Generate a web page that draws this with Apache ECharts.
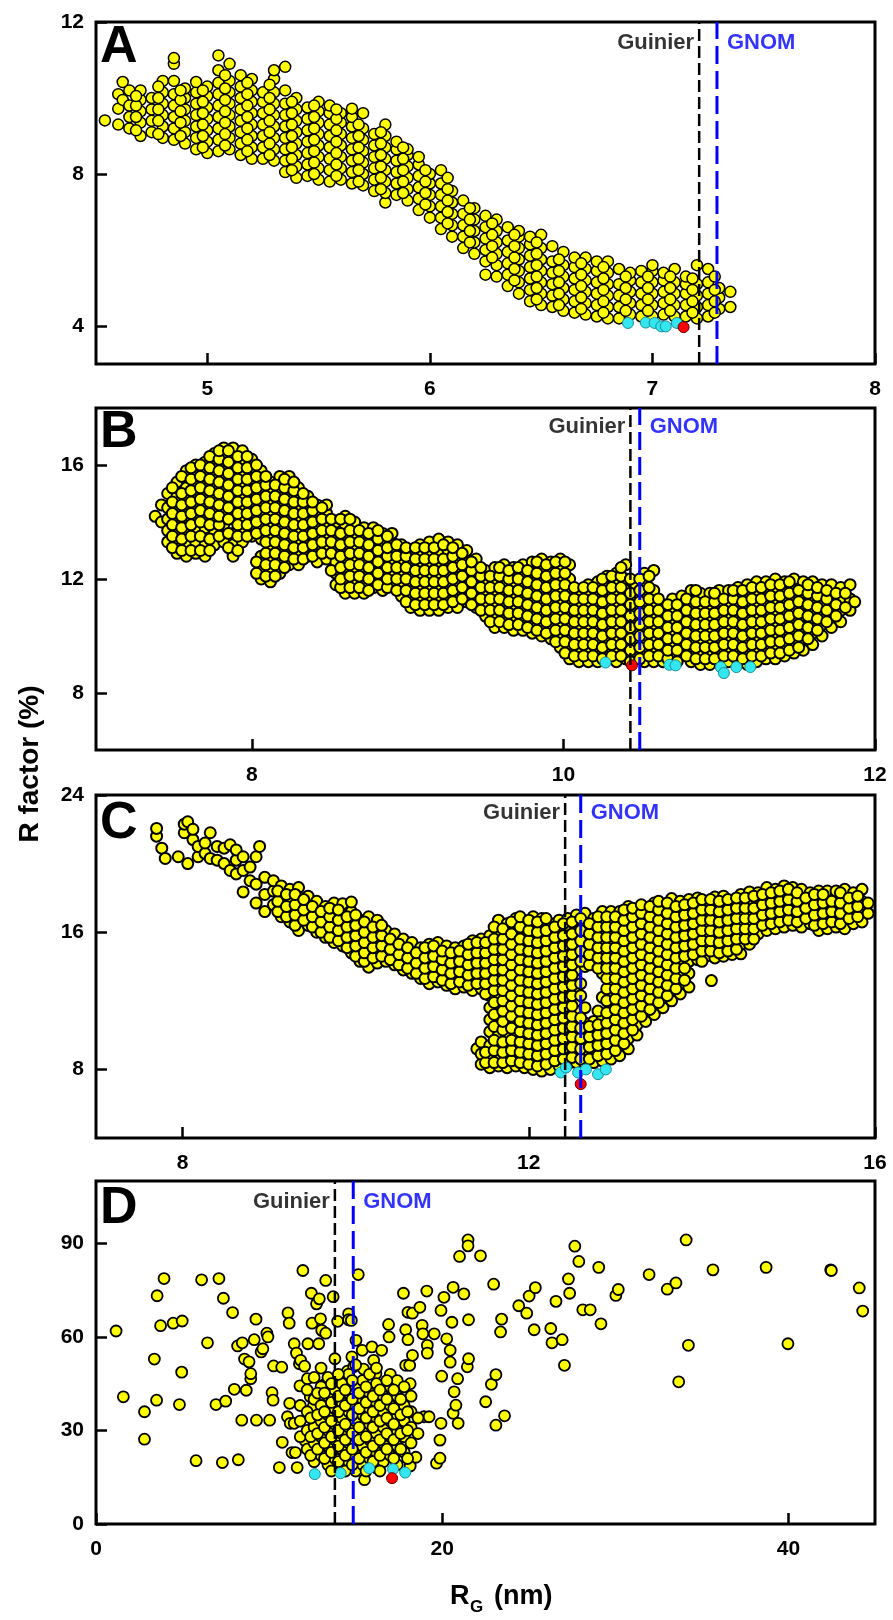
<!DOCTYPE html>
<html><head><meta charset="utf-8">
<script src="https://cdn.jsdelivr.net/npm/echarts@6/dist/echarts.min.js"></script>
<style>html,body{margin:0;padding:0;background:#fff}#c{width:893px;height:1620px}</style>
</head><body><div id="c"></div>
<script>
// ---------- DATA (column format: [x, y1, y2, ...]) ----------
const aYellowCols = [
[4.54,9.41],[4.60,9.3,9.72,10.1],[4.62,9.95,10.42],[4.65,9.2,9.5,9.8,10.2],
[4.70,9.0,9.35,9.65,9.95,10.2],[4.75,9.1,9.4,9.7,10.0],[4.80,8.95,9.25,9.55,9.85,10.15,10.45],
[4.85,8.9,9.2,9.5,9.8,10.1,10.45,10.9,11.05],[4.90,8.8,9.1,9.4,9.7,10.0,10.25],
[4.95,8.65,8.95,9.25,9.55,9.85,10.15,10.42],[5.00,8.55,8.85,9.15,9.45,9.75,10.05,10.3],
[5.05,8.6,8.9,9.2,9.5,9.8,10.1,10.4,10.73,11.12],[5.10,8.65,8.95,9.25,9.55,9.85,10.15,10.45,10.9],
[5.15,8.5,8.8,9.1,9.4,9.7,10.0,10.3,10.6],[5.20,8.4,8.7,9.0,9.3,9.6,9.9,10.2,10.5],
[5.25,8.4,8.7,9.0,9.3,9.6,9.9,10.15],[5.30,8.35,8.65,8.95,9.25,9.55,9.85,10.15,10.5,10.73],
[5.35,8.05,8.35,8.65,8.95,9.25,9.55,9.85,10.2,10.82],[5.40,7.9,8.2,8.5,8.8,9.1,9.4,9.7,10.0],
[5.45,7.95,8.25,8.55,8.85,9.15,9.45,9.75],[5.50,7.85,8.15,8.45,8.75,9.05,9.35,9.65,9.9],
[5.55,7.8,8.1,8.4,8.7,9.0,9.3,9.6,9.8],[5.60,7.85,8.15,8.45,8.75,9.05,9.35,9.6],
[5.65,7.75,8.05,8.35,8.65,8.95,9.25,9.5,9.72],[5.70,7.7,8.0,8.3,8.6,8.9,9.2,9.6],
[5.75,7.55,7.85,8.15,8.45,8.75,9.05],[5.80,7.25,7.5,7.8,8.1,8.4,8.7,9.0,9.3],
[5.85,7.45,7.75,8.05,8.35,8.65,8.85],[5.90,7.3,7.6,7.9,8.2,8.5,8.65],
[5.95,7.05,7.35,7.65,7.95,8.25,8.45],[6.00,6.85,7.15,7.45,7.75,8.0],
[6.05,6.55,6.85,7.15,7.45,7.75,8.1],[6.10,6.35,6.65,6.95,7.25,7.55],
[6.15,6.05,6.35,6.65,6.95,7.3],[6.20,5.9,6.2,6.5,6.8,7.1],
[6.25,5.35,5.7,6.0,6.3,6.6,6.9],[6.30,5.3,5.6,5.9,6.2,6.5,6.8],
[6.35,5.05,5.35,5.65,5.95,6.25,6.6],[6.40,4.85,5.15,5.45,5.75,6.05,6.35,6.5],
[6.45,4.65,4.95,5.25,5.55,5.85,6.15,6.35],[6.50,4.55,4.85,5.15,5.45,5.75,6.05,6.4],
[6.55,4.5,4.8,5.1,5.4,5.7,6.1],[6.60,4.4,4.7,5.0,5.3,5.6,5.95],
[6.65,4.35,4.65,4.95,5.25,5.55,5.8],[6.70,4.3,4.6,4.9,5.2,5.5,5.8],
[6.75,4.25,4.55,4.85,5.15,5.45,5.7],[6.80,4.2,4.5,4.8,5.1,5.4,5.7],
[6.85,4.2,4.5,4.8,5.1,5.5],[6.90,4.3,4.6,4.9,5.2,5.4],
[6.95,4.25,4.55,4.85,5.15,5.45],[7.00,4.25,4.55,4.85,5.15,5.45,5.6],
[7.05,4.3,4.6,4.9,5.2,5.4],[7.10,4.25,4.55,4.85,5.15,5.5],
[7.15,4.25,4.55,4.85,5.1,5.3],[7.20,4.2,4.5,4.8,5.1,5.6],
[7.25,4.25,4.55,4.85,5.15,5.5],[7.30,4.45,4.75,5.0],[7.35,4.5,4.9]
];
const aYellowExtra = [
[4.68,9.15,9.5,9.8,10.05],[4.78,9.05,9.4,9.7,10.0,10.3],[4.88,9.0,9.35,9.65,9.95,10.2],
[4.98,8.7,9.0,9.3,9.6,9.9,10.2],[5.08,8.75,9.05,9.35,9.65,9.95,10.25,10.6],
[5.18,8.6,8.9,9.2,9.5,9.8,10.1,10.4],[5.28,8.5,8.8,9.1,9.4,9.7,10.0,10.35],
[5.38,8.1,8.4,8.7,9.0,9.3,9.6,9.9],[5.48,8.0,8.3,8.6,8.9,9.2,9.5,9.8],
[5.58,7.95,8.25,8.55,8.85,9.15,9.45,9.7],[5.68,7.8,8.1,8.4,8.7,9.0,9.3],
[5.78,7.6,7.9,8.2,8.5,8.8,9.1],[5.88,7.5,7.8,8.1,8.4,8.7],[5.98,7.2,7.5,7.8,8.1],
[6.08,6.7,7.0,7.3,7.6,7.9],[6.18,6.2,6.5,6.8,7.1],[6.28,5.8,6.1,6.4,6.7],
[6.38,5.2,5.5,5.8,6.1,6.4],[6.48,4.7,5.0,5.3,5.6,5.9,6.2],[6.58,4.55,4.85,5.15,5.45,5.75],
[6.68,4.45,4.75,5.05,5.35,5.65],[6.78,4.35,4.65,4.95,5.25,5.55],[6.88,4.4,4.7,5.0,5.3],
[6.98,4.4,4.7,5.0,5.3],[7.08,4.4,4.7,5.0,5.3],[7.18,4.35,4.65,4.95,5.25],[7.28,4.35,4.65,4.95,5.3]
];
const aCyan = [[6.89,4.08],[6.97,4.09],[7.01,4.08],[7.04,3.99],[7.06,3.99],[7.11,4.08]];
const aRed = [[7.14,3.97]];

const bYellowCols = [
[7.38,14.2],[7.42,14.0,14.6],[7.46,13.3,13.7,14.1,14.5,15.0],
[7.52,12.9,13.3,13.7,14.1,14.5,14.9,15.4],[7.58,12.8,13.2,13.6,14.0,14.4,14.8,15.2,15.8],
[7.64,12.9,13.3,13.7,14.1,14.5,14.9,15.3,15.7,16.0],[7.70,12.8,13.2,13.8,14.2,14.6,15.0,15.4,15.8,16.1],
[7.76,13.2,13.6,14.0,14.4,14.8,15.2,15.6,16.0,16.4],[7.82,13.3,13.9,14.3,14.7,15.1,15.5,15.9,16.3,16.6],
[7.88,12.8,13.2,13.6,14.4,14.8,15.2,15.6,16.0,16.4,16.6],[7.94,13.3,13.7,14.1,14.5,14.9,15.3,15.7,16.1,16.5],
[8.00,13.5,13.9,14.3,14.7,15.1,15.5,15.9,16.2],[8.06,12.0,12.4,12.8,13.4,13.8,14.2,14.6,15.0,15.4,15.8],
[8.12,11.9,12.3,12.7,13.1,13.5,13.9,14.3,14.7,15.1,15.4],[8.18,12.2,12.6,13.0,13.4,13.8,14.2,14.6,15.0,15.6],
[8.24,12.5,12.9,13.3,13.7,14.1,14.5,14.9,15.3,15.6],[8.30,12.5,12.9,13.3,13.7,14.1,14.5,14.9,15.2],
[8.36,12.8,13.2,13.6,14.0,14.4,14.9],[8.42,12.6,13.0,13.4,13.8,14.2,14.6],
[8.48,12.7,13.1,13.5,13.9,14.3,14.6],[8.54,11.8,12.2,12.6,13.0,13.4,14.0],
[8.60,11.5,11.9,12.3,12.7,13.1,13.5,13.9,14.2],[8.66,11.5,11.9,12.3,12.7,13.1,13.5,14.0],
[8.72,11.5,11.9,12.3,12.7,13.1,13.5,13.8],[8.78,11.7,12.1,12.5,12.9,13.3,13.8],
[8.84,11.6,12.0,12.4,12.8,13.2,13.6],[8.90,11.8,12.2,12.6,13.0,13.3,13.6],
[8.96,11.4,11.8,12.2,12.6,13.0,13.2],[9.02,11.0,11.4,11.8,12.2,12.6,13.0],
[9.08,10.9,11.3,11.7,12.1,12.5,12.9,13.2],[9.14,10.9,11.3,11.7,12.1,12.5,12.9,13.3],
[9.20,10.9,11.3,11.7,12.1,12.5,12.9,13.4],[9.26,11.0,11.4,11.8,12.2,12.6,13.0,13.3],
[9.32,11.0,11.4,11.8,12.2,12.6,13.2],[9.38,11.2,11.6,12.0,12.4,12.7,13.0],
[9.44,11.0,11.4,11.8,12.2,12.7],[9.50,10.7,11.1,11.5,11.9,12.3],
[9.56,10.3,10.7,11.1,11.5,11.9,12.4],[9.62,10.3,10.7,11.1,11.5,11.9,12.2,12.5],
[9.68,10.2,10.6,11.0,11.4,11.8,12.1,12.4],[9.74,10.2,10.6,11.0,11.4,11.8,12.2,12.5],
[9.80,10.1,10.5,10.9,11.3,11.7,12.1,12.6],[9.86,10.0,10.4,10.8,11.2,11.6,12.0,12.4,12.7],
[9.92,9.9,10.3,10.7,11.1,11.5,11.9,12.3,12.6],[9.98,9.6,10.0,10.4,10.8,11.2,11.6,12.0,12.4,12.7],
[10.04,9.2,9.6,10.0,10.4,10.8,11.2,11.6,12.0,12.5],[10.10,9.1,9.5,9.9,10.3,10.7,11.1,11.6],
[10.16,9.1,9.5,9.9,10.3,10.7,11.1,11.5,11.8],[10.22,9.1,9.5,9.9,10.3,10.7,11.1,11.5,11.9],
[10.28,9.4,9.8,10.2,10.6,11.0,11.4,11.8,12.1],[10.34,9.1,9.5,9.9,10.3,10.7,11.1,11.5,11.9,12.2],
[10.40,9.2,9.6,10.0,10.4,10.8,11.2,11.6,12.0,12.5],[10.46,9.3,9.7,10.1,10.5,10.9,11.3,11.8],
[10.52,9.1,9.5,9.9,10.3,10.7,11.1,11.5,11.9,12.2],[10.58,9.1,9.5,9.9,10.3,10.7,11.1,11.6,12.3],
[10.64,9.1,9.5,9.9,10.3,10.7,11.1],[10.70,9.3,9.7,10.1,10.5,10.9,11.3],
[10.76,9.3,9.7,10.1,10.5,10.9,11.4],[10.82,9.1,9.5,9.9,10.3,10.7,11.1,11.6],
[10.88,9.0,9.4,9.8,10.2,10.6,11.0,11.5],[10.94,9.0,9.4,9.8,10.2,10.6,11.0,11.5],
[11.00,9.1,9.5,9.9,10.3,10.7,11.1,11.6],[11.06,9.1,9.5,9.9,10.3,10.7,11.1,11.6],
[11.12,9.1,9.5,9.9,10.3,10.7,11.1,11.5,11.7],[11.18,9.0,9.4,9.8,10.2,10.6,11.0,11.4,11.8],
[11.24,9.1,9.5,9.9,10.3,10.7,11.1,11.5,11.9],[11.30,9.2,9.6,10.0,10.4,10.8,11.2,11.6,11.9],
[11.36,9.2,9.6,10.0,10.4,10.8,11.2,11.6,12.0],[11.42,9.3,9.7,10.1,10.5,10.9,11.3,11.7,11.9],
[11.48,9.4,9.8,10.2,10.6,11.0,11.4,11.8,12.0],[11.54,9.5,9.9,10.3,10.7,11.1,11.5,11.9],
[11.60,9.7,10.1,10.5,10.9,11.3,11.7,11.9],[11.66,10.0,10.4,10.8,11.2,11.6,11.8],
[11.72,10.3,10.7,11.1,11.5,11.8],[11.78,10.5,10.9,11.3,11.7],[11.84,10.9,11.3,11.8],[11.87,11.2]
];
const bYellowExtra = [
[7.49,13.1,13.5,13.9,14.3,14.7,15.2],[7.55,13.0,13.4,13.8,14.2,14.6,15.0,15.6],
[7.61,13.0,13.5,13.9,14.3,14.7,15.1,15.5,15.9],[7.67,13.0,13.5,14.0,14.4,14.8,15.2,15.6,16.0],
[7.73,13.0,13.4,13.9,14.3,14.7,15.1,15.5,15.9,16.3],[7.79,13.5,13.9,14.2,14.6,15.0,15.4,15.8,16.2,16.5],
[7.85,13.1,13.6,14.1,14.5,14.9,15.3,15.7,16.1,16.5],[7.91,13.0,13.5,13.9,14.3,14.7,15.1,15.5,15.9,16.3],
[7.97,13.5,13.9,14.3,14.7,15.1,15.5,15.9,16.3],[8.03,12.2,12.6,13.6,14.0,14.4,14.8,15.2,15.6,16.0],
[8.09,12.1,12.5,12.9,13.3,13.7,14.1,14.5,14.9,15.3,15.6],[8.15,12.1,12.5,12.9,13.3,13.7,14.1,14.5,14.9,15.3],
[8.21,12.4,12.8,13.2,13.6,14.0,14.4,14.8,15.2,15.5],[8.27,12.7,13.1,13.5,13.9,14.3,14.7,15.1,15.4],
[8.33,12.7,13.1,13.5,13.9,14.3,14.7,15.0],[8.39,12.8,13.2,13.6,14.0,14.4,14.7],
[8.45,12.9,13.3,13.7,14.1,14.5],[8.51,12.3,12.9,13.3,13.7,14.1],
[8.57,11.7,12.0,12.4,12.8,13.2,13.6,14.1],[8.63,11.7,12.1,12.5,12.9,13.3,13.7,14.1],
[8.69,11.7,12.1,12.5,12.9,13.3,13.7],[8.75,11.6,12.0,12.4,12.8,13.2,13.6],
[8.81,11.8,12.2,12.6,13.0,13.4,13.7],[8.87,11.7,12.0,12.4,12.8,13.1,13.5],
[8.93,11.6,12.0,12.4,12.8,13.2],[8.99,11.2,11.6,12.0,12.4,12.8,13.1],
[9.05,11.1,11.5,11.9,12.3,12.7,13.1],[9.11,11.1,11.5,11.9,12.3,12.7,13.1],
[9.17,11.1,11.5,11.9,12.3,12.7,13.1],[9.23,11.1,11.5,11.9,12.3,12.7,13.2],
[9.29,11.2,11.6,12.0,12.4,12.8,13.1],[9.35,11.3,11.7,12.1,12.5,12.9],
[9.41,11.1,11.5,11.9,12.3,12.6],[9.47,10.9,11.3,11.7,12.1,12.4],
[9.53,10.5,10.9,11.3,11.7,12.1],[9.59,10.5,10.9,11.3,11.7,12.1,12.4],
[9.65,10.4,10.8,11.2,11.6,12.0,12.3],[9.71,10.4,10.8,11.2,11.6,12.0,12.4],
[9.77,10.3,10.7,11.1,11.5,11.9,12.3],[9.83,10.2,10.6,11.0,11.4,11.8,12.2,12.6],
[9.89,10.1,10.5,10.9,11.3,11.7,12.1,12.5],[9.95,9.8,10.2,10.6,11.0,11.4,11.8,12.2,12.6],
[10.01,9.4,9.8,10.2,10.6,11.0,11.4,11.8,12.2,12.6],[10.07,9.3,9.7,10.1,10.5,10.9,11.3,11.7],
[10.13,9.3,9.7,10.1,10.5,10.9,11.3,11.7],[10.19,9.3,9.7,10.1,10.5,10.9,11.3,11.7],
[10.25,9.2,9.6,10.0,10.4,10.8,11.2,11.6,12.0],[10.31,9.3,9.7,10.1,10.5,10.9,11.3,11.7,12.1],
[10.37,9.3,9.7,10.1,10.5,10.9,11.3,11.7,12.1,12.4],[10.43,9.1,9.5,9.9,10.3,10.7,11.1,11.5,12.0],
[10.49,9.2,9.6,10.0,10.4,10.8,11.2,11.6,12.0],[10.55,9.3,9.7,10.1,10.5,10.9,11.3,11.7,12.1],
[10.61,9.3,9.7,10.1,10.5,10.9,11.3],[10.67,9.2,9.5,9.9,10.3,10.7,11.1],
[10.73,9.1,9.5,9.9,10.3,10.7,11.1],[10.79,9.3,9.7,10.1,10.5,10.9,11.3],
[10.85,9.2,9.6,10.0,10.4,10.8,11.2,11.6],[10.91,9.2,9.6,10.0,10.4,10.8,11.2],
[10.97,9.2,9.6,10.0,10.4,10.8,11.2,11.5],[11.03,9.3,9.7,10.1,10.5,10.9,11.3],
[11.09,9.3,9.7,10.1,10.5,10.9,11.3,11.6],[11.15,9.2,9.6,10.0,10.4,10.8,11.2,11.6],
[11.21,9.3,9.7,10.1,10.5,10.9,11.3,11.7],[11.27,9.3,9.7,10.1,10.5,10.9,11.3,11.7],
[11.33,9.4,9.8,10.2,10.6,11.0,11.4,11.8],[11.39,9.4,9.8,10.2,10.6,11.0,11.4,11.8],
[11.45,9.5,9.9,10.3,10.7,11.1,11.5,11.9],[11.51,9.6,10.0,10.4,10.8,11.2,11.6],
[11.57,9.9,10.3,10.7,11.1,11.5,11.8],[11.63,10.2,10.6,11.0,11.4,11.7],
[11.69,10.5,10.9,11.3,11.6],[11.75,10.7,11.1,11.5],[11.81,11.0,11.5]
];
const bCyan = [[10.27,9.07],[10.68,8.99],[10.72,8.97],[11.01,8.91],[11.03,8.70],[11.11,8.91],[11.20,8.91]];
const bRed = [[10.44,8.97]];

const cYellowCols = [
[7.70,21.6,22.05],[7.76,20.9],[7.80,20.3],[7.95,20.4],[8.02,21.8,22.3],[8.06,20.0,22.44],
[8.12,21.4,22.0],[8.18,20.4,21.0],[8.26,20.6,21.2],[8.32,20.3,21.8],[8.40,20.2,21.0],
[8.48,20.0,20.9],[8.55,19.6,21.1],[8.62,19.4,20.2,20.8],[8.70,18.35,19.6,20.4],[8.78,19.0,19.8],
[8.85,17.7,18.8,20.4],[8.89,21.0],[8.95,17.2,18.2,19.2],[9.05,17.6,18.4,19.0],
[9.14,16.9,17.5,18.1,18.7],[9.24,16.6,17.2,17.9,18.5],[9.34,16.1,16.7,17.3,17.9,18.6],
[9.45,16.4,17.0,17.6,18.1],[9.55,16.0,16.6,17.2,17.8],[9.65,15.7,16.3,16.9,17.5],
[9.75,15.4,16.0,16.6,17.2,17.7],[9.85,15.2,15.8,16.4,17.0,17.66],[9.95,14.8,15.4,16.0,16.6,17.2,17.76],
[10.05,14.3,14.9,15.5,16.1,16.7],[10.15,13.96,14.5,15.1,15.7,16.3,16.9],[10.25,14.2,14.8,15.4,16.0,16.7],
[10.35,14.3,14.9,15.5,16.1],[10.45,14.1,14.7,15.3,15.9],[10.55,13.8,14.4,15.0,15.6],
[10.65,13.6,14.2,14.8,15.4],[10.75,13.3,13.9,14.5,15.1],[10.85,13.0,13.6,14.2,14.8,15.3],
[10.95,13.1,13.7,14.3,14.9,15.4],[11.05,12.9,13.5,14.1,14.6,15.2],[11.15,12.7,13.3,13.9,14.5,15.1],
[11.25,12.8,13.4,14.0,14.6,15.2],[11.35,12.6,13.2,13.8,14.4,15.0,15.5],[11.40,9.2],
[11.45,8.3,8.9,9.6,12.7,13.3,13.9,14.5,15.1,15.6],
[11.55,8.1,8.7,9.4,10.2,10.9,11.6,12.3,12.9,13.5,14.1,14.7,15.3,15.8],
[11.65,8.2,8.8,9.4,10.0,10.6,11.2,11.8,12.4,13.0,13.6,14.2,14.8,15.4,16.0,16.7],
[11.75,8.1,8.7,9.3,9.9,10.5,11.1,11.7,12.3,12.9,13.5,14.1,14.7,15.3,15.9,16.5],
[11.85,8.2,8.8,9.4,10.1,10.8,11.4,12.0,12.6,13.2,13.8,14.4,15.0,15.6,16.2,16.8],
[11.95,8.1,8.7,9.3,9.9,10.5,11.1,11.7,12.3,12.9,13.5,14.1,14.7,15.3,15.9,16.6],
[12.05,8.0,8.6,9.2,9.8,10.4,11.0,11.6,12.2,12.8,13.4,14.0,14.6,15.2,15.8,16.4,16.9],
[12.15,7.9,8.5,9.1,9.7,10.3,10.9,11.5,12.1,12.7,13.3,13.9,14.5,15.1,15.7,16.3,16.8],
[12.25,8.0,8.6,9.2,9.8,10.4,11.0,11.6,12.2,12.8,13.4,14.0,14.6,15.2,15.8,16.5],
[12.35,8.2,8.8,9.4,10.0,10.6,11.2,11.8,12.4,13.0,13.6,14.2,14.8,15.4,16.0,16.7],
[12.45,8.3,8.9,9.5,10.1,10.7,11.3,11.9,12.5,13.1,13.7,14.3,14.9,15.5,16.1,16.8],
[12.55,8.4,9.0,9.6,10.2,10.8,11.4,12.0,12.6,13.2,13.8,14.4,15.0,15.6,16.2,17.0],
[12.65,8.3,8.9,9.5,10.1,10.7,11.6,14.0,14.6,15.2,15.8,16.4,17.1],
[12.75,8.4,9.0,9.6,10.2,10.8,14.4,15.0,15.6,16.2,16.8],
[12.85,8.5,9.1,9.7,10.3,11.0,12.2,13.6,14.2,14.8,15.4,16.0,16.6,17.2],
[12.95,8.6,9.2,9.8,10.4,11.0,11.6,12.4,13.0,13.6,14.2,14.8,15.4,16.0,16.6,17.2],
[13.05,8.8,9.4,10.0,10.6,11.2,11.8,12.4,13.0,13.6,14.2,14.8,15.4,16.0,16.6,17.2],
[13.15,9.2,9.8,10.4,11.0,11.6,12.2,12.8,13.4,14.0,14.6,15.2,15.8,16.4,17.0,17.5],
[13.25,10.0,10.6,11.2,11.8,12.4,13.0,13.6,14.2,14.8,15.4,16.0,16.6,17.2],
[13.35,10.8,11.4,12.0,12.6,13.2,13.8,14.4,15.0,15.6,16.2,16.8,17.4],
[13.45,11.2,11.8,12.4,13.0,13.6,14.2,14.8,15.4,16.0,16.6,17.2,17.7],
[13.55,11.6,12.2,12.8,13.4,14.0,14.6,15.2,15.8,16.4,17.0,17.6],
[13.65,12.0,12.6,13.2,13.8,14.4,15.0,15.6,16.2,16.8,17.4,17.96],
[13.75,12.4,13.0,13.6,14.2,14.8,15.4,16.0,16.6,17.2,17.8],
[13.85,12.8,13.6,14.3,14.9,15.5,16.1,16.7,17.3,17.9],
[13.95,14.4,15.0,15.6,16.2,16.8,17.4,18.0],[14.05,14.6,15.2,15.8,16.4,17.0,17.6],[14.11,13.18],
[14.15,14.5,15.1,15.7,16.3,16.9,17.5,18.05],[14.25,14.6,15.2,15.8,16.4,17.0,17.6,18.1],
[14.35,14.7,15.3,15.9,16.5,17.1,17.7],[14.45,14.74,15.3,15.9,16.5,17.1,17.7,18.2],
[14.55,15.3,15.9,16.5,17.1,17.7,18.35],[14.65,15.9,16.5,17.1,17.7,18.3],
[14.75,16.1,16.7,17.3,17.9,18.6],[14.85,16.2,16.8,17.4,18.0,18.5],
[14.95,16.3,16.9,17.5,18.1,18.7],[15.05,16.4,17.0,17.6,18.2,18.6],
[15.15,16.3,16.9,17.5,18.1,18.5],[15.25,16.5,17.1,17.7,18.3],
[15.35,16.1,16.7,17.3,17.9,18.4],[15.45,16.2,16.8,17.4,18.0,18.4],
[15.55,16.3,16.9,17.5,18.1,18.4],[15.65,16.2,16.8,17.4,18.0,18.5],
[15.75,16.5,17.1,17.7,18.3],[15.85,16.6,17.2,17.8,18.5],[15.92,17.1,17.7]
];
const cYellowExtra = [
[9.10,17.2,17.8,18.4],[9.20,16.9,17.5,18.2],[9.30,16.4,17.0,17.6,18.2],[9.40,16.7,17.3,17.9],
[9.50,16.3,16.9,17.5],[9.60,16.0,16.6,17.2],[9.70,15.7,16.3,16.9,17.4],[9.80,15.5,16.1,16.7,17.3],
[9.90,15.1,15.7,16.3,16.9],[10.00,14.6,15.2,15.8,16.4,17.0],[10.10,14.3,14.8,15.4,16.0,16.6],
[10.20,14.5,15.1,15.7,16.3],[10.30,14.6,15.2,15.8,16.4],[10.40,14.4,15.0,15.6],
[10.50,14.1,14.7,15.3],[10.60,13.9,14.5,15.1],[10.70,13.6,14.2,14.8],[10.80,13.3,13.9,14.5,15.1],
[10.90,13.4,14.0,14.6,15.2],[11.00,13.2,13.8,14.4,14.9],[11.10,13.0,13.6,14.2,14.8],
[11.20,13.1,13.7,14.3,14.9],[11.30,12.9,13.5,14.1,14.7,15.3],[11.40,13.0,13.6,14.2,14.8,15.4],
[11.50,8.4,9.0,12.4,13.0,13.6,14.2,14.8,15.4],
[11.60,8.4,9.1,9.7,10.5,11.2,11.9,12.6,13.2,13.8,14.4,15.0,15.6,16.3],
[11.70,8.4,9.0,9.6,10.3,10.8,11.4,12.0,12.6,13.2,13.8,14.4,15.0,15.6,16.2],
[11.80,8.5,9.1,9.7,10.4,11.1,11.7,12.3,12.9,13.5,14.1,14.7,15.3,15.9,16.6],
[11.90,8.4,9.0,9.6,10.2,10.8,11.4,12.0,12.6,13.2,13.8,14.4,15.0,15.6,16.3,16.9],
[12.00,8.3,8.9,9.5,10.1,10.7,11.3,11.9,12.5,13.1,13.7,14.3,14.9,15.5,16.1,16.7],
[12.10,8.2,8.8,9.4,10.0,10.6,11.2,11.8,12.4,13.0,13.6,14.2,14.8,15.4,16.0,16.6],
[12.20,8.3,8.9,9.5,10.1,10.7,11.3,11.9,12.5,13.1,13.7,14.3,14.9,15.5,16.1,16.8],
[12.30,8.5,9.1,9.7,10.3,10.9,11.5,12.1,12.7,13.3,13.9,14.5,15.1,15.7,16.3],
[12.40,8.6,9.2,9.8,10.4,11.0,11.6,12.2,12.8,13.4,14.0,14.6,15.2,15.8,16.5],
[12.50,8.7,9.3,9.9,10.5,11.1,11.7,12.3,12.9,13.5,14.1,14.7,15.3,15.9,16.6],
[12.60,8.6,9.2,9.8,10.4,11.0,12.3,13.0,14.3,14.9,15.5,16.1,16.8],
[12.70,8.6,9.3,9.9,10.5,14.1,14.7,15.3,15.9,16.5],
[12.80,8.8,9.4,10.0,10.6,11.4,13.9,14.5,15.1,15.7,16.3,16.9],
[12.90,8.9,9.5,10.1,10.7,11.3,12.0,12.7,13.3,13.9,14.5,15.1,15.7,16.3,16.9],
[13.00,9.1,9.7,10.3,10.9,11.5,12.1,12.7,13.3,13.9,14.5,15.1,15.7,16.3,16.9],
[13.10,9.5,10.1,10.7,11.3,11.9,12.5,13.1,13.7,14.3,14.9,15.5,16.1,16.7,17.3],
[13.20,10.3,10.9,11.5,12.1,12.7,13.3,13.9,14.5,15.1,15.7,16.3,16.9,17.4],
[13.30,11.1,11.7,12.3,12.9,13.5,14.1,14.7,15.3,15.9,16.5,17.1,17.6],
[13.40,11.5,12.1,12.7,13.3,13.9,14.5,15.1,15.7,16.3,16.9,17.5],
[13.50,11.9,12.5,13.1,13.7,14.3,14.9,15.5,16.1,16.7,17.3,17.8],
[13.60,12.3,12.9,13.5,14.1,14.7,15.3,15.9,16.5,17.1,17.7],
[13.70,12.7,13.3,13.9,14.5,15.1,15.7,16.3,16.9,17.5],
[13.80,13.2,13.9,14.6,15.2,15.8,16.4,17.0,17.6],[13.90,14.7,15.3,15.9,16.5,17.1,17.7],
[14.00,14.3,14.9,15.5,16.1,16.7,17.3,17.9],[14.10,14.9,15.5,16.1,16.7,17.3,17.9],
[14.20,14.8,15.4,16.0,16.6,17.2,17.8],[14.30,14.9,15.5,16.1,16.7,17.3,17.9],
[14.40,15.0,15.6,16.2,16.8,17.4,18.0],[14.50,15.6,16.2,16.8,17.4,18.0],
[14.60,15.6,16.2,16.8,17.4,18.1],[14.70,16.4,17.0,17.6,18.2],[14.80,16.5,17.1,17.7,18.3],
[14.90,16.6,17.2,17.8,18.4],[15.00,16.7,17.3,17.9,18.5],[15.10,16.6,17.2,17.8,18.3],
[15.20,16.8,17.4,18.0],[15.30,16.4,17.0,17.6,18.2],[15.40,16.5,17.1,17.7,18.2],
[15.50,16.6,17.2,17.8],[15.60,16.5,17.1,17.7,18.3],[15.70,16.8,17.4,18.0],[15.80,16.9,17.5,18.1]
];
const cCyan = [[12.37,7.82],[12.43,8.11],[12.57,7.82],[12.66,8.0],[12.80,7.72],[12.89,8.0]];
const cRed = [[12.60,7.14]];

const dYellowPts = [
[1.16,61.9],[1.58,40.8],[2.8,36.0],[2.8,27.2],[3.37,52.9],[3.53,73.2],[3.5,39.7],[3.73,63.6],
[3.93,78.7],[4.46,64.4],[4.82,38.3],[4.95,48.7],[4.98,65.1],[5.78,20.3],[6.1,78.3],[6.44,58.1],
[6.93,38.3],[7.1,78.7],[7.3,19.7],[7.36,72.4],[7.49,39.4],[7.89,67.8],[7.99,43.2],[8.22,20.6],
[8.18,57.1],[8.45,58.1],[8.42,33.3],[8.58,52.9],[8.68,42.9],[8.84,52.0],[8.94,46.6],[8.94,48.2],
[9.14,59.1],[9.24,65.7],[9.27,33.3],[9.54,55.2],[9.64,56.2],[9.87,61.2],[9.93,60.0],[10.03,33.3],
[10.17,42.1],[10.23,39.7],[10.26,50.7],[10.59,18.1],[10.73,50.3],[10.76,26.2],[11.09,67.7],
[11.16,64.4],[11.06,34.4],[11.19,38.7],[11.22,32.3],[11.32,22.9],[11.45,32.3],[11.52,22.9],
[11.62,18.1],[11.45,57.8],[11.58,54.8],[11.75,51.4],[11.82,52.5],[11.78,44.3],[11.95,81.3],
[12.05,50.6],[12.08,26.7],[12.21,46.6],[12.24,57.8],[12.38,40.8],[12.44,74.0],[12.48,64.4],
[12.51,21.6],[12.54,37.6],[12.64,34.6],[12.74,70.6],[12.87,57.8],[12.9,72.2],[12.97,65.8],
[13.04,62.1],[13.14,44.5],[13.2,37.4],[13.27,78.1],[13.27,61.2],[13.33,21.6],[13.7,72.9],
[13.76,40.8],[13.96,65.0],[14.59,67.4],[14.59,65.5],[14.75,65.3],[15.02,58.9],[15.15,80.0],
[14.78,53.6],[14.52,49.0],[14.19,23.7],[14.88,50.4],[15.38,55.7],[15.45,49.7],[15.51,14.2],
[15.94,56.8],[16.04,52.5],[16.17,48.2],[16.5,55.7],[16.9,64.0],[16.93,60.0],[17.76,74.0],
[17.89,62.3],[17.89,50.9],[18.02,67.9],[18.12,50.9],[18.15,45.0],[18.15,18.6],[18.02,59.1],
[18.28,67.6],[18.28,54.1],[18.48,21.4],[18.71,69.5],[18.84,63.7],[18.88,61.0],[18.94,34.4],
[19.11,74.7],[19.14,57.3],[19.14,54.8],[19.24,34.4],[19.54,61.0],[19.67,19.5],[19.87,21.1],
[19.87,26.9],[19.93,32.3],[19.97,47.4],[19.93,68.5],[20.1,72.7],[20.26,59.4],[20.46,55.7],
[20.46,51.9],[20.56,64.7],[20.63,35.5],[20.63,75.9],[20.69,42.4],[20.79,38.1],[20.89,46.6],
[20.92,32.3],[21.0,85.8],[21.25,73.8],[21.45,50.4],[21.52,53.0],[21.52,65.5],[21.49,91.1],
[21.49,89.2],[22.21,86.0],[22.51,39.2],[22.84,44.8],[22.97,76.9],[23.1,47.9],[23.1,31.7],
[23.37,61.6],[23.43,65.7],[23.6,34.7],[24.42,70.0],[24.88,67.6],[25.02,73.1],[25.31,62.3],
[25.38,75.8],[26.27,62.7],[26.34,58.1],[26.57,71.4],[26.93,59.1],[27.06,50.9],[27.29,78.6],
[27.36,74.0],[27.66,89.1],[27.89,84.2],[28.12,68.7],[28.55,68.7],[29.04,82.3],[29.17,64.2],
[30.03,73.3],[30.17,75.2],[31.95,80.0],[33.0,75.3],[33.5,77.3],[33.66,45.6],[34.09,91.1],
[34.22,57.3],[35.64,81.5],[38.71,82.3],[39.97,57.8],[42.44,81.5],[42.48,81.3],[44.09,75.7],[44.29,68.3]
];
const dYellowCols = [
[11.8,28,33,38],[12.2,24,30,36,43],[12.6,20,26,31,40,47],[13.0,22,28,33,38,44,50],
[13.4,19,25,30,35,41,47],[13.8,21,27,32,37,43,53],[14.2,18,24,29,34,39,45],
[14.6,20,26,31,36,42,48],[15.0,17,22,28,33,38,44,51],[15.4,19,25,30,35,40,46],
[15.8,21,27,32,37,42,48],[16.2,18,23,29,34,39,45,50],[16.6,20,26,31,36,41],
[17.0,22,28,33,38,44,48],[17.4,19,25,30,35,41,46],[17.8,23,28,33,38,44],[18.2,26,31,36,41],[18.6,29,34],
[12.4,22,28,34],[12.8,24,29,35,42],[13.2,21,26,31,36,42],[13.6,17,23,28,33,39,45],
[14.0,20,25,30,36,41,48],[14.4,17,22,27,32,38,43],[14.8,19,24,29,35,40,46],[15.2,21,27,31,37,42],
[15.6,17,23,28,34,39,44],[16.0,20,25,31,36,41],[16.4,17,22,27,33,38,43],[16.8,24,29,34,40,46],
[17.2,21,27,32,37,43],[17.6,24,29,35,40],[18.0,21,30,36]
];
const dCyan = [[12.64,16.0],[14.13,16.3],[15.78,17.9],[17.16,17.6],[17.86,16.5]];
const dRed = [[17.10,14.7]];

// axis ranges & tick labels
const xRanges = [[4.5,8],[7,12],[7,16],[0,45]];
const yRanges = [[3,12],[6,18],[4,24],[0,110]];
const xTicks = [[5,6,7,8],[8,10,12],[8,12,16],[0,20,40]];
const yTicks = [[4,8,12],[8,12,16],[8,16,24],[0,30,60,90]];
// vertical reference lines
const guinierX = [7.21,10.43,12.42,13.8];
const gnomX = [7.29,10.49,12.60,14.86];
const lineLabelY = [11.45,17.33,22.95,103.3];
const panelLetters = ['A','B','C','D'];

// ---------- BUILD ----------
const flat = cols => cols.flatMap(c => c.slice(1).map(y => [c[0], y]));
const yellow = [
  flat(aYellowCols).concat(flat(aYellowExtra)),
  flat(bYellowCols).concat(flat(bYellowExtra)),
  flat(cYellowCols).concat(flat(cYellowExtra)),
  dYellowPts.concat(flat(dYellowCols))
];
const cyan = [aCyan,bCyan,cCyan,dCyan];
const red = [aRed,bRed,cRed,dRed];
const borderW = [1.5, 2, 2, 1.8];

const FONT = '"Liberation Sans", Arial, sans-serif';
const gridBoxes = [[22,342],[408,342],[795,343],[1181,343]];
const letterTop = [22,407,798,1183];

const grid = gridBoxes.map(g => ({left:96, width:779, top:g[0], height:g[1], show:true,
  borderColor:'#000', borderWidth:3, backgroundColor:'transparent'}));

const axisCommon = (ticks, margin) => ({
  axisLine:{show:false}, splitLine:{show:false},
  axisTick:{show:true, inside:true, length:11, customValues:ticks, lineStyle:{color:'#000', width:2.5}},
  axisLabel:{customValues:ticks, color:'#000', fontSize:21, fontWeight:'bold', fontFamily:FONT, margin:margin}
});
const xAxis = xRanges.map((r,i)=>Object.assign({gridIndex:i, type:'value', min:r[0], max:r[1]}, axisCommon(xTicks[i],15)));
const yAxis = yRanges.map((r,i)=>Object.assign({gridIndex:i, type:'value', min:r[0], max:r[1]}, axisCommon(yTicks[i],12)));

const series = [];
for (let i=0;i<4;i++){
  const sym = 11;
  series.push({type:'scatter', xAxisIndex:i, yAxisIndex:i, data:yellow[i], symbolSize:sym, z:2,
    itemStyle:{color:'#ffff00', borderColor:'#000', borderWidth:borderW[i], opacity:1}});
  series.push({type:'scatter', xAxisIndex:i, yAxisIndex:i, data:cyan[i], symbolSize:sym, z:3,
    itemStyle:{color:'#33e6f0', borderColor:'#1a8f99', borderWidth:1, opacity:1}});
  series.push({type:'scatter', xAxisIndex:i, yAxisIndex:i, data:red[i], symbolSize:sym, z:4,
    itemStyle:{color:'#ff0000', borderColor:'#600', borderWidth:1, opacity:1}});
  const yr = yRanges[i];
  series.push({type:'line', xAxisIndex:i, yAxisIndex:i, data:[[guinierX[i],yr[0]],[guinierX[i],yr[1]]],
    symbol:'none', z:6, silent:true, lineStyle:{color:'#000', width:2.5, type:[12,5]}});
  series.push({type:'line', xAxisIndex:i, yAxisIndex:i, data:[[gnomX[i],yr[0]],[gnomX[i],yr[1]]],
    symbol:'none', z:6, silent:true, lineStyle:{color:'#0000ff', width:3, type:[18,7]}});
  series.push({type:'scatter', xAxisIndex:i, yAxisIndex:i, data:[[guinierX[i],lineLabelY[i]]], symbolSize:0, z:7, silent:true,
    label:{show:true, formatter:'Guinier', position:'left', distance:5, color:'#000', fontSize:22, fontWeight:'bold', fontFamily:FONT}});
  series.push({type:'scatter', xAxisIndex:i, yAxisIndex:i, data:[[gnomX[i],lineLabelY[i]]], symbolSize:0, z:7, silent:true,
    label:{show:true, formatter:'GNOM', position:'right', distance:10, color:'#0000ff', fontSize:22, fontWeight:'bold', fontFamily:FONT}});
}

const graphic = panelLetters.map((t,i)=>({type:'text', left:100, top:letterTop[i],
  style:{text:t, fill:'#000', font:'bold 52px '+FONT}}));
graphic.push({type:'text', x:30, y:764, rotation:Math.PI/2,
  style:{text:'R factor (%)', fill:'#000', font:'bold 28px '+FONT, textAlign:'center', textVerticalAlign:'middle'}});
graphic.push({type:'text', x:450, y:1597, style:{text:'R', fill:'#000', font:'bold 27px '+FONT, textAlign:'left', textVerticalAlign:'middle'}});
graphic.push({type:'text', x:470, y:1607, style:{text:'G', fill:'#000', font:'bold 17px '+FONT, textAlign:'left', textVerticalAlign:'middle'}});
graphic.push({type:'text', x:494, y:1597, style:{text:'(nm)', fill:'#000', font:'bold 27px '+FONT, textAlign:'left', textVerticalAlign:'middle'}});

const chart = echarts.init(document.getElementById('c'), null, {renderer:'canvas'});
chart.setOption({animation:false, backgroundColor:'#fff', grid, xAxis, yAxis, series, graphic});
</script></body></html>
